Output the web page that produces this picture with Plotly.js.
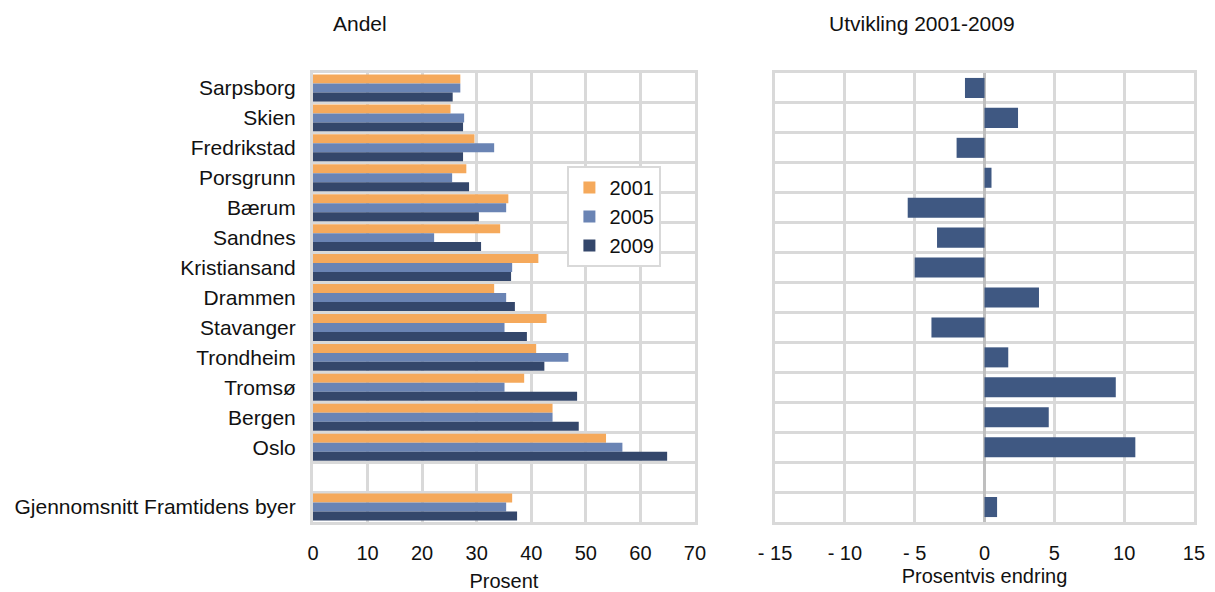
<!DOCTYPE html>
<html>
<head>
<meta charset="utf-8">
<script src="https://cdn.plot.ly/plotly-3.0.1.min.js"></script>
<style>html,body{margin:0;padding:0;background:#fff;}#chart{width:1215px;height:592px;}</style>
</head>
<body>
<div id="chart"></div>
<script>
const categories = ["Sarpsborg","Skien","Fredrikstad","Porsgrunn","Bærum","Sandnes","Kristiansand","Drammen","Stavanger","Trondheim","Tromsø","Bergen","Oslo"," ","Gjennomsnitt Framtidens byer"];
const andel2001 = [27.0,25.2,29.6,28.1,35.8,34.3,41.3,33.2,42.8,40.9,38.7,43.9,53.7,null,36.5];
const andel2005 = [27.0,27.7,33.2,25.5,35.4,22.2,36.5,35.4,35.1,46.8,35.1,43.9,56.7,null,35.4];
const andel2009 = [25.6,27.5,27.5,28.6,30.4,30.8,36.3,37.0,39.2,42.4,48.4,48.7,64.9,null,37.4];
const endring = [-1.4,2.4,-2.0,0.5,-5.5,-3.4,-5.0,3.9,-3.8,1.7,9.4,4.6,10.8,null,0.9];
const seriesNames = ["2001","2005","2009"];
const xTickVals2 = [-15,-10,-5,0,5,10,15];
const xTickText2 = ["- 15","- 10","- 5","0","5","10","15"];

const FONT = '"Liberation Sans", Arial, sans-serif';
const GRID = '#d9d9d9';
const colors = ['#F5A95B','#6A84B4','#34476B'];

const traces = [andel2001, andel2005, andel2009].map((vals, i) => ({
  type: 'bar', orientation: 'h', name: seriesNames[i],
  y: categories, x: vals, xaxis: 'x', yaxis: 'y',
  marker: {color: colors[i]}, hoverinfo: 'skip'
}));
traces.push({
  type: 'bar', orientation: 'h', name: 'Endring', showlegend: false,
  y: categories, x: endring, xaxis: 'x2', yaxis: 'y2', width: 0.67,
  marker: {color: '#3F5882'}, hoverinfo: 'skip'
});

const yCommon = {
  type: 'category', categoryorder: 'array', categoryarray: categories,
  autorange: 'reversed', tickson: 'boundaries',
  showgrid: true, gridcolor: GRID, gridwidth: 3,
  showline: true, linecolor: GRID, linewidth: 3, mirror: true,
  zeroline: false, fixedrange: true
};

const layout = {
  width: 1215, height: 592,
  margin: {l: 0, r: 0, t: 73, b: 70},
  paper_bgcolor: '#fff', plot_bgcolor: '#fff',
  font: {family: FONT, size: 20, color: '#111'},
  barmode: 'group', bargap: 0.1, bargroupgap: 0,
  showlegend: true,
  legend: {x: 0.467, y: 0.793, xanchor: 'left', yanchor: 'top',
           bgcolor: '#fff', bordercolor: GRID, borderwidth: 2,
           font: {size: 20, family: FONT, color: '#111'}, traceorder: 'normal',
           tracegroupgap: 0, itemwidth: 30},
  xaxis: {
    domain: [0.2576, 0.572], range: [0, 70], dtick: 10, tick0: 0,
    showgrid: true, gridcolor: GRID, gridwidth: 3,
    showline: true, linecolor: GRID, linewidth: 3, mirror: true,
    zeroline: false, ticks: 'outside', ticklen: 11, tickcolor: 'rgba(0,0,0,0)',
    tickfont: {size: 20}, anchor: 'y',
    title: {text: 'Prosent', font: {size: 20}, standoff: 12}
  },
  yaxis: Object.assign({}, yCommon, {
    anchor: 'x', ticks: '', ticklabelstandoff: 10,
    tickfont: {size: 21}
  }),
  xaxis2: {
    domain: [0.6379, 0.9827], range: [-15, 15],
    tickmode: 'array', tickvals: xTickVals2, ticktext: xTickText2,
    showgrid: true, gridcolor: GRID, gridwidth: 3,
    showline: true, linecolor: GRID, linewidth: 3, mirror: true,
    zeroline: true, zerolinecolor: '#bfbfbf', zerolinewidth: 3,
    ticks: 'outside', ticklen: 11, tickcolor: 'rgba(0,0,0,0)',
    tickfont: {size: 20}, anchor: 'y2',
    title: {text: 'Prosentvis endring', font: {size: 20}, standoff: 6}
  },
  yaxis2: Object.assign({}, yCommon, {anchor: 'x2', showticklabels: false, ticks: ''}),
  annotations: [
    {text: 'Andel', xref: 'paper', yref: 'paper', x: 360/1215, y: 1, yshift: 50,
     xanchor: 'center', yanchor: 'middle', showarrow: false, font: {size: 21, family: FONT, color: '#111'}},
    {text: 'Utvikling 2001-2009', xref: 'paper', yref: 'paper', x: 922/1215, y: 1, yshift: 50,
     xanchor: 'center', yanchor: 'middle', showarrow: false, font: {size: 21, family: FONT, color: '#111'}}
  ]
};

Plotly.newPlot('chart', traces, layout, {staticPlot: true, displayModeBar: false});
</script>
</body>
</html>
